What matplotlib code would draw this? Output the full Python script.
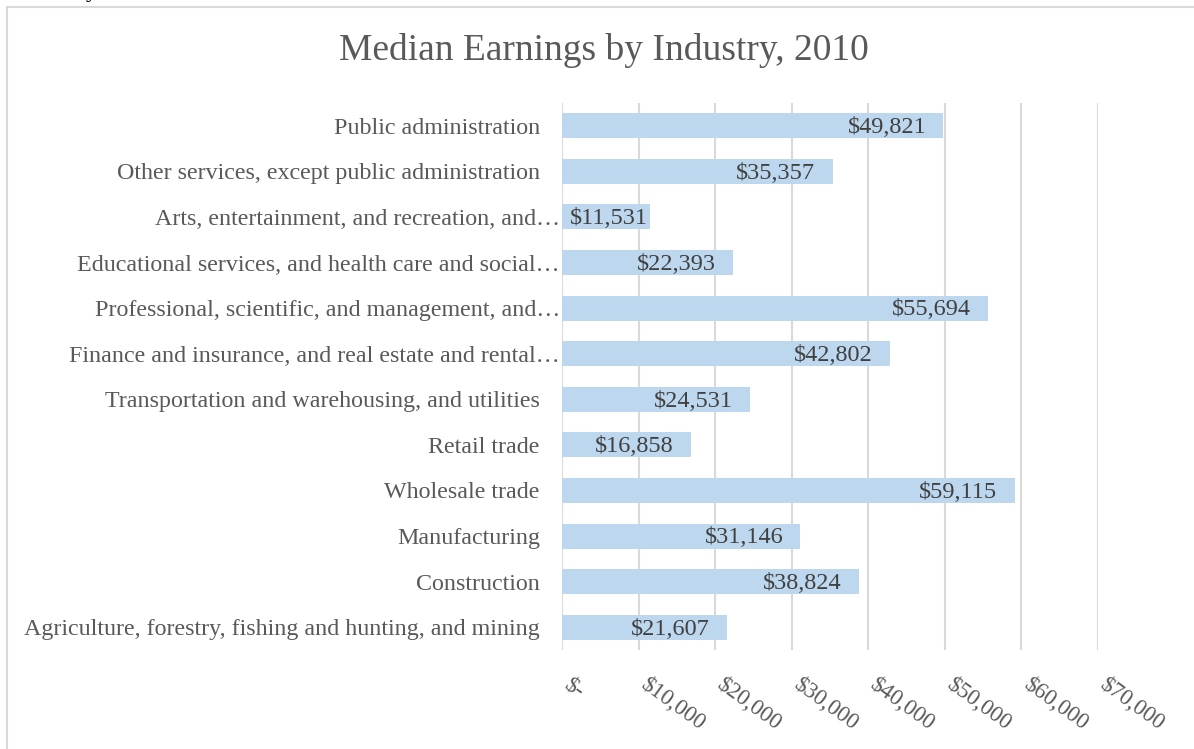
import matplotlib
matplotlib.use('Agg')
from matplotlib import pyplot as plt
from matplotlib.patches import Rectangle
from matplotlib.transforms import ScaledTranslation

# Chart data, bottom to top as drawn
industries = [
    'Agriculture, forestry, fishing and hunting, and mining',
    'Construction',
    'Manufacturing',
    'Wholesale trade',
    'Retail trade',
    'Transportation and warehousing, and utilities',
    'Finance and insurance, and real estate and rental\u2026',
    'Professional, scientific, and management, and\u2026',
    'Educational services, and health care and social\u2026',
    'Arts, entertainment, and recreation, and\u2026',
    'Other services, except public administration',
    'Public administration',
]
earnings = [21607, 38824, 31146, 59115, 16858, 24531, 42802, 55694, 22393, 11531, 35357, 49821]
x_ticks = [0, 10000, 20000, 30000, 40000, 50000, 60000, 70000]
x_tick_labels = ['$-', '$10,000', '$20,000', '$30,000', '$40,000', '$50,000', '$60,000', '$70,000']

plt.rcParams['font.family'] = ['Liberation Serif', 'DejaVu Serif']
text_color = '#595959'

fig = plt.figure(figsize=(11.94, 7.49), dpi=100)
ax = fig.add_axes([562 / 1194, 1 - 650 / 749, (1098 - 562) / 1194, (650 - 103) / 749])

# chart border like the Excel chart area
fig.patches.append(Rectangle((7 / 1194, -0.05), 1.2, 1 - 7 / 749 + 0.05, transform=fig.transFigure,
                             fill=False, edgecolor='#D9D9D9', linewidth=1.5))
# cut-off descender of text above the chart
fig.text(86 / 1194, 1 + 3 / 749, 'y', fontsize=17, color='black', ha='left', va='baseline')

pos = list(range(len(industries)))
ax.barh(pos, earnings, height=0.55, color='#BDD7EE', zorder=3)

# inside-end labels, pushed right when the bar is too short
for p, v in zip(pos, earnings):
    ax.text(max(v - 2250, 11200), p - 0.04, '${:,}'.format(v), ha='right', va='center',
            fontsize=17.5, color='#404040', zorder=4)

ax.set_xlim(0, 70000)
ax.set_ylim(-0.5, len(industries) - 0.5)
ax.set_xticks(x_ticks)
ax.set_xticklabels(x_tick_labels, rotation=-36, ha='left', va='top', rotation_mode='anchor',
                   fontsize=16.5, color=text_color)
ax.set_yticks(pos)
ax.set_yticklabels(industries, fontsize=17.3, color=text_color)
ax.tick_params(axis='y', length=0, pad=16)
ax.tick_params(axis='x', length=0, pad=17)

# shift rotated tick labels right of their gridline
for lbl in ax.get_xticklabels():
    lbl.set_transform(lbl.get_transform() + ScaledTranslation(10 / 100, 0, fig.dpi_scale_trans))
# truncated category labels run up to the axis
for lbl in ax.get_yticklabels():
    if lbl.get_text().endswith('\u2026'):
        lbl.set_transform(lbl.get_transform() + ScaledTranslation(20 / 100, 0, fig.dpi_scale_trans))

ax.grid(axis='x', color='#D9D9D9', linewidth=1.5, zorder=0)
for s in ax.spines.values():
    s.set_visible(False)

fig.text(604 / 1194, 1 - 50 / 749, 'Median Earnings by Industry, 2010', ha='center', va='center',
         fontsize=27, color=text_color)

fig.savefig('out.png', dpi=100)
